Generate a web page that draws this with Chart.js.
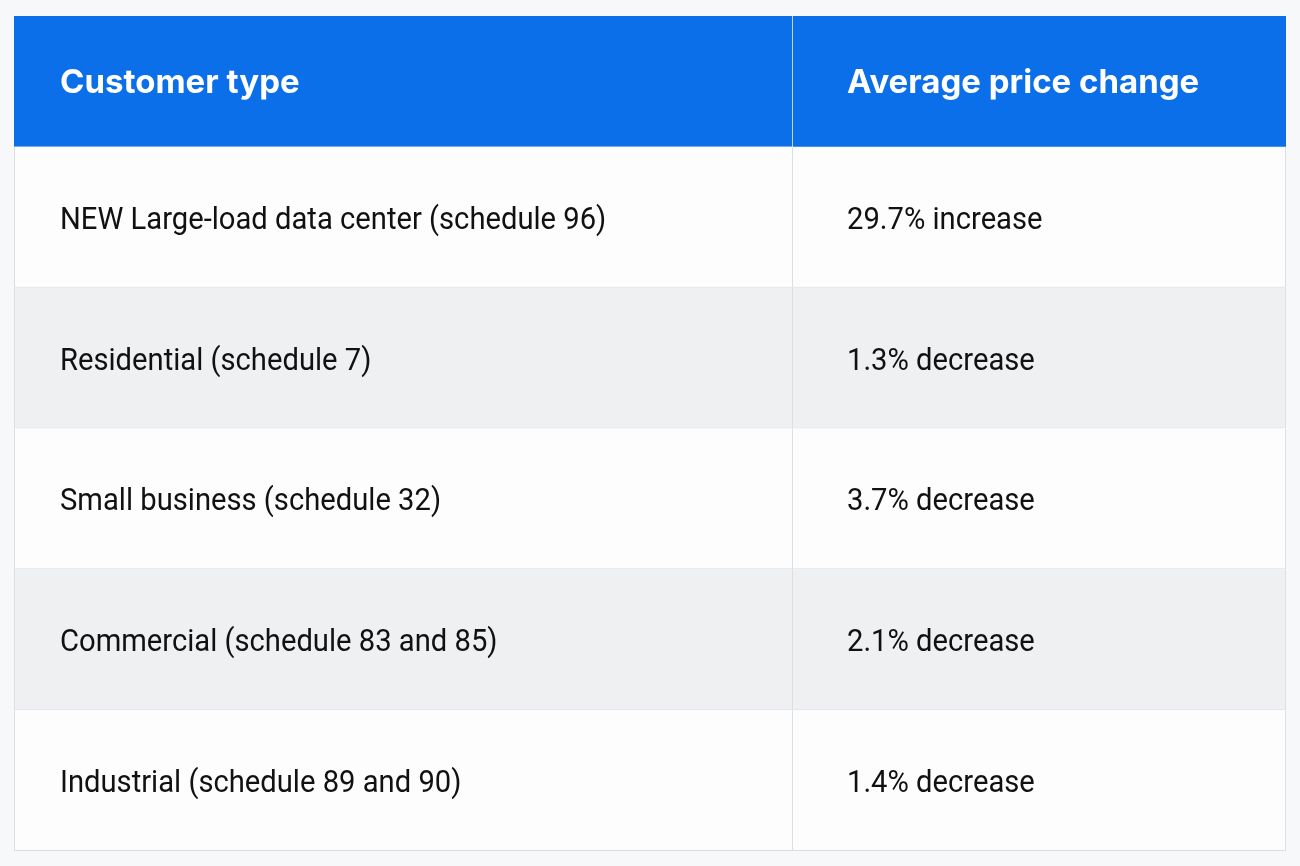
<!DOCTYPE html>
<html><head><meta charset="utf-8">
<script src="https://cdn.jsdelivr.net/npm/chart.js@4.4.1/dist/chart.umd.min.js"></script>
<style>html,body{margin:0;padding:0;background:#f7f8f9;}canvas{display:block}</style>
</head><body>
<canvas id="c" width="1300" height="866"></canvas>
<script>
// ---- data ----
const columnHeaders = ['Customer type', 'Average price change'];
const customerTypes = [
  'NEW Large-load data center (schedule 96)',
  'Residential (schedule 7)',
  'Small business (schedule 32)',
  'Commercial (schedule 83 and 85)',
  'Industrial (schedule 89 and 90)'
];
const priceChangePct = [29.7, -1.3, -3.7, -2.1, -1.4];
const priceChangeLabels = priceChangePct.map(v => Math.abs(v).toFixed(1) + '% ' + (v >= 0 ? 'increase' : 'decrease'));

// ---- layout / style ----
const COL_SPLIT = 779 / 1272;
const HEADER_UNITS = 130 / 140;
const TOTAL_UNITS = HEADER_UNITS + customerTypes.length;
const headerCenter = HEADER_UNITS / 2;
const rowCenters = customerTypes.map((_, i) => HEADER_UNITS + i + 0.5);
const minGap = Math.min(HEADER_UNITS / 2 + 0.5, 1);
const BLUE = '#0a6fe9';
const ROW_BG = customerTypes.map((_, i) => i % 2 === 0 ? '#fdfdfd' : '#eff0f2');
const LINE = '#dcdee2';
const HEAD_FONT = '700 33px Inter, "Noto Sans", sans-serif';
const BODY_FONT = '400 29.2px Roboto, "Liberation Sans", sans-serif';

const headerBorder1 = {top: 0, right: 1, bottom: 0, left: 0};
const bodyBorder1 = {top: 0, right: 1, bottom: 1, left: 1};
const bodyBorder2 = {top: 0, right: 1, bottom: 1, left: 0};

const datasets = [
  {
    data: [{y: headerCenter, x: [0, COL_SPLIT]}],
    backgroundColor: BLUE, borderColor: '#b9d3f7', borderWidth: headerBorder1,
    barPercentage: HEADER_UNITS / minGap,
    cellTexts: [columnHeaders[0]], textFont: HEAD_FONT, textColor: '#ffffff', textPad: 46, textStretch: 1
  },
  {
    data: [{y: headerCenter, x: [COL_SPLIT, 1]}],
    backgroundColor: BLUE, borderWidth: 0,
    barPercentage: HEADER_UNITS / minGap,
    cellTexts: [columnHeaders[1]], textFont: HEAD_FONT, textColor: '#ffffff', textPad: 54, textStretch: 1
  },
  {
    data: rowCenters.map(c => ({y: c, x: [0, COL_SPLIT]})),
    backgroundColor: ROW_BG, borderColor: LINE, borderWidth: bodyBorder1,
    barPercentage: 1 / minGap,
    cellTexts: customerTypes, textFont: BODY_FONT, textColor: '#111111', textPad: 46, textStretch: 1.1
  },
  {
    data: rowCenters.map(c => ({y: c, x: [COL_SPLIT, 1]})),
    backgroundColor: ROW_BG, borderColor: LINE, borderWidth: bodyBorder2,
    barPercentage: 1 / minGap,
    cellTexts: priceChangeLabels, textFont: BODY_FONT, textColor: '#111111', textPad: 54, textStretch: 1.1
  }
];

const cellText = {
  id: 'cellText',
  afterDatasetsDraw(chart) {
    const ctx = chart.ctx;
    chart.data.datasets.forEach((ds, di) => {
      chart.getDatasetMeta(di).data.forEach((el, i) => {
        const p = el.getProps(['x', 'base', 'y'], true);
        const left = Math.min(p.x, p.base);
        ctx.save();
        ctx.font = ds.textFont;
        ctx.fillStyle = ds.textColor;
        ctx.textBaseline = 'alphabetic';
        const cap = ctx.measureText('H').actualBoundingBoxAscent;
        ctx.translate(left + ds.textPad, p.y);
        ctx.scale(1, ds.textStretch);
        ctx.fillText(ds.cellTexts[i], 0, cap / 2);
        ctx.restore();
      });
    });
  }
};

new Chart(document.getElementById('c'), {
  type: 'bar',
  data: { datasets },
  options: {
    indexAxis: 'y',
    responsive: false,
    animation: false,
    events: [],
    layout: { padding: { left: 14, right: 14, top: 16, bottom: 15 } },
    datasets: { bar: { grouped: false, categoryPercentage: 1, borderSkipped: false } },
    scales: {
      x: { type: 'linear', min: 0, max: 1, display: false, offset: false },
      y: { type: 'linear', reverse: true, min: 0, max: TOTAL_UNITS, display: false, offset: false, ticks: { stepSize: 100 } }
    },
    plugins: { legend: { display: false }, tooltip: { enabled: false } }
  },
  plugins: [cellText]
});
</script>
</body></html>
